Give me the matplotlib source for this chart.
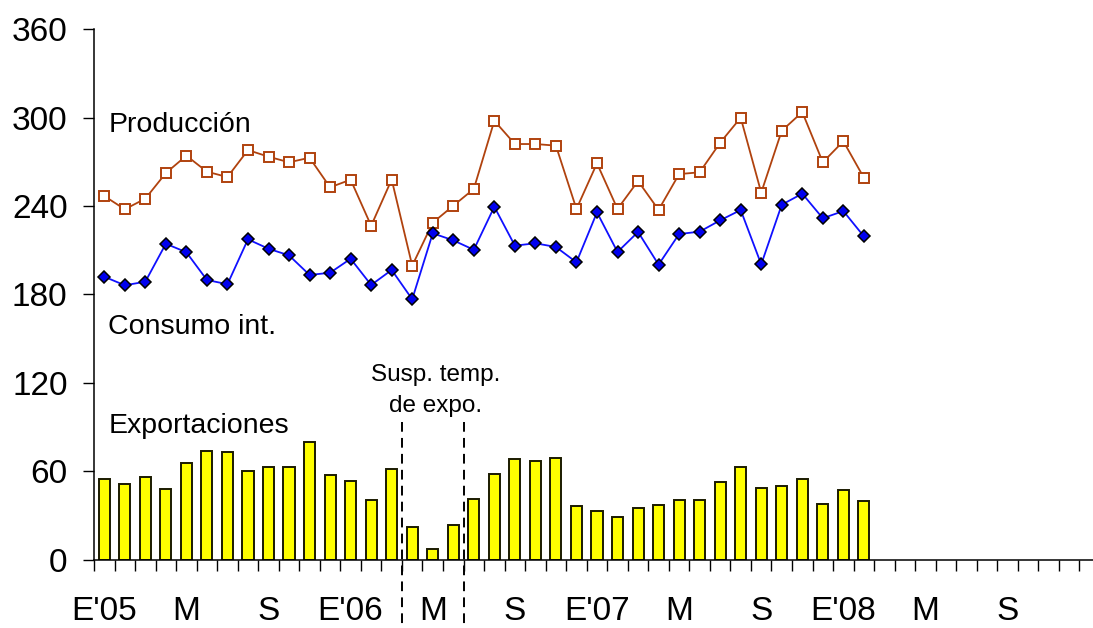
import matplotlib
matplotlib.use("Agg")
import matplotlib.pyplot as plt
import numpy as np

plt.rcParams['font.family'] = ['Liberation Sans', 'DejaVu Sans']

# Monthly data, Jan 2005 .. Feb 2008
produccion = [246.8, 237.8, 245.0, 262.4, 274.2, 263.3, 259.7, 278.0, 273.5, 269.7,
              272.8, 252.7, 257.9, 226.6, 258.0, 199.5, 228.7, 240.2, 251.6, 297.9,
              282.1, 282.1, 281.0, 238.0, 269.0, 238.0, 257.0, 237.4, 261.7, 262.9,
              283.0, 300.0, 249.1, 291.1, 303.8, 269.7, 284.0, 259.2]
consumo = [192.0, 186.2, 188.6, 214.4, 208.6, 189.8, 186.9, 217.4, 211.0, 206.5,
           193.2, 194.7, 204.2, 186.4, 196.6, 176.7, 221.5, 216.7, 210.3, 239.5,
           213.1, 214.7, 212.2, 201.8, 235.7, 208.8, 222.4, 200.2, 221.0, 222.6,
           230.3, 237.3, 200.4, 240.9, 248.4, 231.7, 236.6, 219.4]
exportaciones = [54.9, 51.5, 55.8, 47.9, 65.3, 73.5, 73.0, 60.3, 62.6, 62.8,
                 79.6, 57.4, 53.5, 40.2, 61.3, 22.3, 6.9, 23.4, 40.9, 58.3,
                 68.4, 66.9, 68.7, 36.1, 33.1, 29.1, 34.8, 37.3, 40.2, 40.2,
                 52.6, 62.6, 48.5, 49.7, 54.9, 37.9, 47.2, 39.5]

n_months_axis = 48
tick_labels = ["E'05", "M", "S", "E'06", "M", "S", "E'07", "M", "S", "E'08", "M", "S"]
y_ticks = [0, 60, 120, 180, 240, 300, 360]
susp_bounds = [14.5, 17.5]

fig = plt.figure(figsize=(10.93, 6.28), dpi=100)
ax = fig.add_axes([94 / 1093, 1 - 559.5 / 628, (1093 - 94) / 1093, (559.5 - 29.3) / 628])

x = np.arange(len(exportaciones))
ax.bar(x, exportaciones, width=0.54, color='#FFFF00', edgecolor='#1A1A00', linewidth=1.4, zorder=2)
ax.plot(x, produccion, color='#B0420E', lw=1.3, marker='s', ms=7.2, mfc='white',
        mec='#B0420E', mew=1.4, zorder=3)
ax.plot(x, consumo, color='#1010FF', lw=1.3, marker='D', ms=6.6, mfc='#0000EE',
        mec='black', mew=1.1, zorder=3)

ax.set_xlim(-0.5, -0.5 + (1093 - 94) / 20.53)
ax.set_ylim(0, 360)

for s in ['top', 'right']:
    ax.spines[s].set_visible(False)
for s in ['left', 'bottom']:
    ax.spines[s].set_linewidth(1.1)

ax.set_yticks(y_ticks)
ax.tick_params(axis='y', direction='out', length=8, width=1, pad=11, labelsize=24)

ax.set_xticks(np.arange(0, n_months_axis, 4))
ax.set_xticklabels(tick_labels)
ax.set_xticks(np.arange(-0.5, n_months_axis, 1.0), minor=True)
ax.tick_params(axis='x', which='major', length=0, pad=26, labelsize=24)
ax.tick_params(axis='x', which='minor', direction='out', length=8, width=1)

ax.text(0.2, 290.5, 'Producción', fontsize=20.5, ha='left', va='baseline')
ax.text(0.2, 153.1, 'Consumo int.', fontsize=20.5, ha='left', va='baseline')
ax.text(0.2, 86.1, 'Exportaciones', fontsize=20.5, ha='left', va='baseline')
ax.text(16.15, 121.4, 'Susp. temp.', fontsize=17.5, ha='center', va='baseline')
ax.text(16.15, 100.4, 'de expo.', fontsize=17.5, ha='center', va='baseline')

for xb in susp_bounds:
    ax.plot([xb, xb], [93.4, -47], color='black', lw=1.4, ls=(0, (5, 3.2)),
            clip_on=False, zorder=4)

fig.savefig('out.png', dpi=100)
